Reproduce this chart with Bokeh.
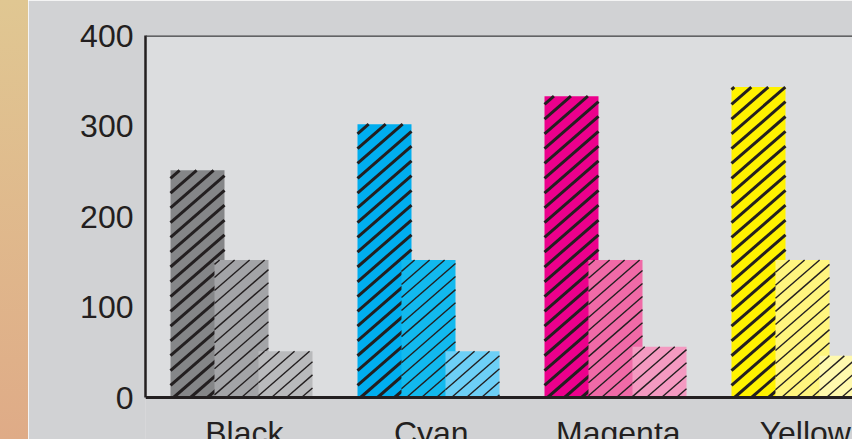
import numpy as np
from bokeh.plotting import figure
from bokeh.layouts import row
from bokeh.models import (Range1d, FixedTicker, ColumnDataSource, Span, Div,
                          BoxAnnotation)
from bokeh.core.properties import value
from bokeh.embed import file_html
from bokeh.resources import INLINE

# ---- data ----
categories = ["Black", "Cyan", "Magenta", "Yellow"]
series1 = [251, 302, 333, 343]
series2 = [152, 152, 152, 152]
series3 = [51, 51, 56, 46]
colors1 = ["#858688", "#00aeef", "#ec008c", "#fff200"]
colors2 = ["#a3a4a7", "#12b9ee", "#f06aa7", "#fff57f"]
colors3 = ["#b9babc", "#6dcff6", "#f49ac1", "#fff9ae"]
y_ticks = [0, 100, 200, 300, 400]

FONT = "Liberation Sans"
INK = "#231f20"
OUTER = "#d1d2d4"
INNER = "#dcdddf"

# ---- layout constants ----
W, H = 824, 439
B_LEFT, B_TOP = 117, 35
X_START, X_END = -0.5134, 3.2674
Y_END = 400
PX_PER_Y = 362 / 400
Y_START = Y_END - (H - B_TOP) / PX_PER_Y
SX = (W - B_LEFT) / (X_END - X_START)      # px per x unit
SY = (H - B_TOP) / (Y_END - Y_START)       # px per y unit
BAR_W = 0.2888
OFFSETS = [-0.2353, 0.0, 0.2353]
HATCH = [(17.0, 3.0), (15.0, 1.4), (15.0, 1.4)]   # (spacing px, weight px)
SLOPE = 0.87                                      # hatch slope in screen px


def hatch_segments(xc, tops, spacing):
    """'/' hatch lines clipped to each bar rectangle."""
    x0s, y0s, x1s, y1s = [], [], [], []
    for c, t in zip(xc, tops):
        X0, X1 = (c - BAR_W / 2) * SX, (c + BAR_W / 2) * SX
        Y0, Y1 = 0.0, t * SY
        b_min = Y0 - SLOPE * X1
        b_max = Y1 - SLOPE * X0
        step = spacing * SLOPE
        k0, k1 = int(np.floor(b_min / step)), int(np.ceil(b_max / step))
        for k in range(k0, k1 + 1):
            b = k * step
            xa = max(X0, (Y0 - b) / SLOPE)
            xb = min(X1, (Y1 - b) / SLOPE)
            if xb - xa > 0.5:
                x0s.append(xa / SX); y0s.append((SLOPE * xa + b) / SY)
                x1s.append(xb / SX); y1s.append((SLOPE * xb + b) / SY)
    return dict(x0=x0s, y0=y0s, x1=x1s, y1=y1s)


# ---- decorative left strip (gradient) ----
strip = Div(text="", width=28, height=H,
            styles={"background": "linear-gradient(to bottom, #e0c792, #dfab87)",
                    "margin": "0", "padding": "0"})

# ---- main chart ----
x_idx = np.arange(len(categories), dtype=float)
p = figure(width=W, height=H,
           x_range=Range1d(X_START, X_END), y_range=Range1d(Y_START, Y_END),
           toolbar_location=None, output_backend="svg",
           min_border_left=B_LEFT, min_border_right=0,
           min_border_top=B_TOP, min_border_bottom=0)
p.background_fill_color = OUTER
p.border_fill_color = OUTER
p.outline_line_color = None
p.xaxis.visible = False

# plot area (above the baseline) is lighter; below it the outer colour,
# with a stroke that hides the seam at the frame's left edge
p.add_layout(BoxAnnotation(top=0, left=X_START - 0.02, fill_color=OUTER,
                           fill_alpha=1.0, line_color=OUTER, line_width=3,
                           level="underlay"))
p.add_layout(BoxAnnotation(bottom=0, fill_color=INNER, fill_alpha=1.0,
                           line_color=None, level="underlay"))

for vals, cols, off, (spc, wgt) in zip([series1, series2, series3],
                                      [colors1, colors2, colors3],
                                      OFFSETS, HATCH):
    xc = x_idx + off
    bsrc = ColumnDataSource(dict(x=xc, top=vals, color=cols))
    p.vbar(x="x", top="top", width=BAR_W, source=bsrc,
           fill_color="color", line_color=None)
    hsrc = ColumnDataSource(hatch_segments(xc, vals, spc))
    p.segment(x0="x0", y0="y0", x1="x1", y1="y1", source=hsrc,
              line_color=INK, line_width=wgt)

# y axis
p.yaxis.ticker = FixedTicker(ticks=y_ticks)
p.yaxis.bounds = (y_ticks[0], y_ticks[-1])
p.yaxis.major_tick_line_color = None
p.yaxis.minor_tick_line_color = None
p.yaxis.major_tick_out = 0
p.yaxis.major_tick_in = 0
p.yaxis.major_label_standoff = 12
p.yaxis.axis_line_color = INK
p.yaxis.axis_line_width = 2.5
p.yaxis.major_label_text_font = FONT
p.yaxis.major_label_text_font_size = "32px"
p.yaxis.major_label_text_color = INK

p.xgrid.visible = False
p.ygrid.ticker = FixedTicker(ticks=y_ticks[1:-1])
p.ygrid.grid_line_color = "#6f7072"
p.ygrid.grid_line_width = 1.5

# top border and baseline
p.add_layout(Span(location=y_ticks[-1], dimension="width",
                  line_color="#3a3a3c", line_width=2.5))
p.add_layout(Span(location=y_ticks[0], dimension="width",
                  line_color=INK, line_width=3))

# category labels
lsrc = ColumnDataSource(dict(x=x_idx + 0.015, cat=categories))
p.text(x="x", y=-19, text="cat", source=lsrc,
       text_align="center", text_baseline="top",
       text_font=value(FONT), text_font_size="32px", text_color=INK)

layout = row(strip, p, spacing=0)
open("out.html", "w").write(file_html(layout, INLINE))
